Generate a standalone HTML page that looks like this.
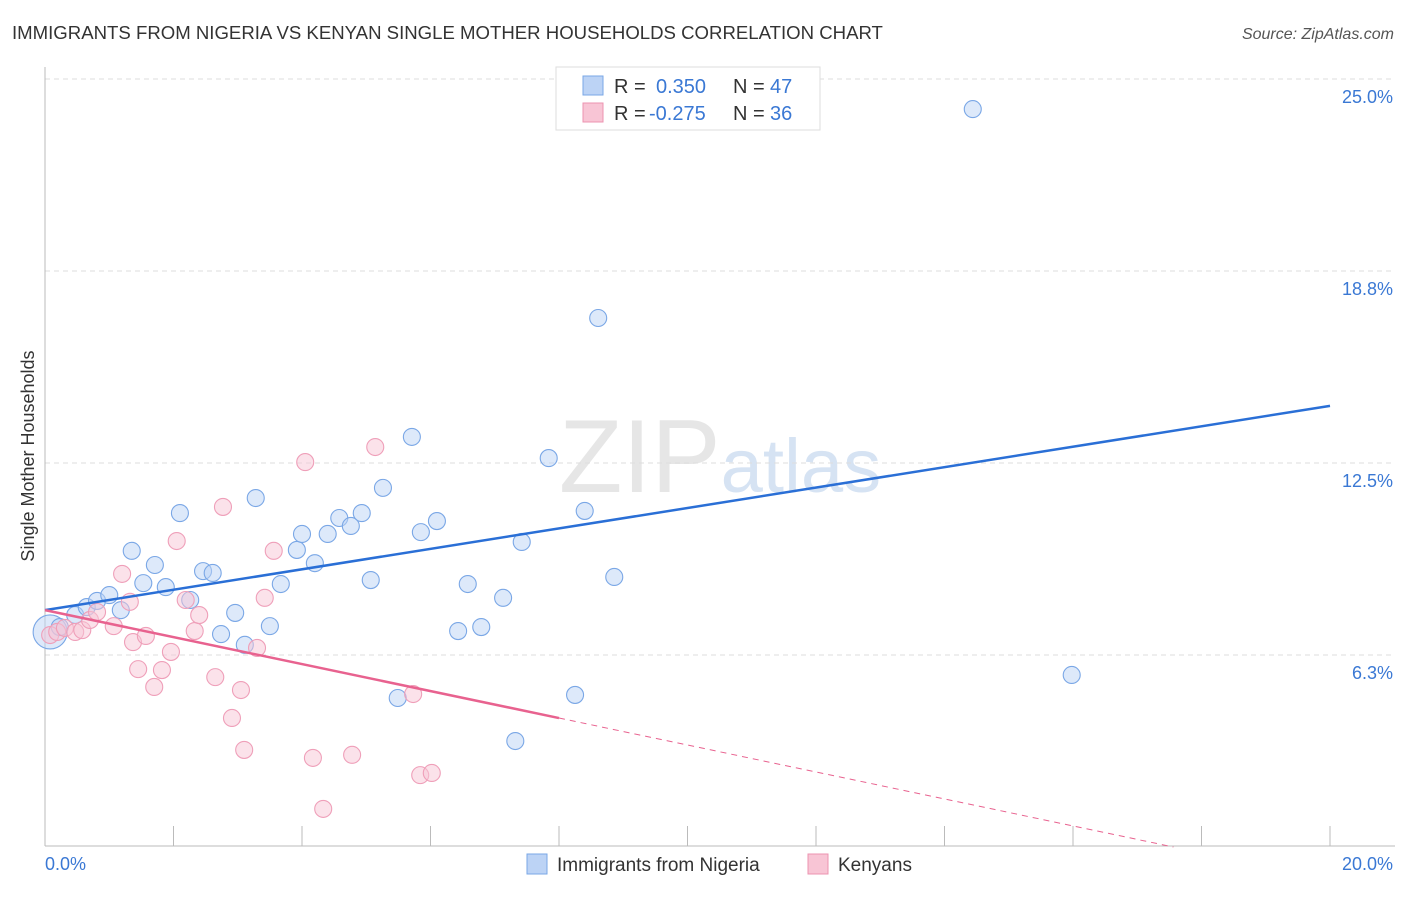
<!DOCTYPE html>
<html><head><meta charset="utf-8"><style>
body{margin:0;background:#fff;font-family:"Liberation Sans",sans-serif;}
svg text{font-family:"Liberation Sans",sans-serif;}
</style></head><body>
<svg id="chart" width="1406" height="892" xmlns="http://www.w3.org/2000/svg">
<text x="12" y="39" font-size="18.6" fill="#333">IMMIGRANTS FROM NIGERIA VS KENYAN SINGLE MOTHER HOUSEHOLDS CORRELATION CHART</text>
<text x="1394" y="39" font-size="16" fill="#555" text-anchor="end" font-style="italic">Source: ZipAtlas.com</text>
<text x="720" y="492" font-size="104" fill="#e6e6e6" text-anchor="middle" font-family="Liberation Serif"><tspan>ZIP</tspan><tspan fill="#d6e3f3" font-family="Liberation Sans" font-size="76">atlas</tspan></text>
<g id="grid"></g>
<g id="axes"></g>
<text transform="translate(34,456) rotate(-90)" font-size="18" fill="#333" text-anchor="middle">Single Mother Households</text>
<g id="marks"></g>
<g>
<rect x="556" y="67" width="264" height="63" fill="#fff" stroke="#ddd"/>
<rect x="583" y="76" width="20" height="19" fill="#bcd3f5" stroke="#7aa7e6"/>
<rect x="583" y="103" width="20" height="19" fill="#f8c5d5" stroke="#ec93b0"/>
<text x="614" y="93" font-size="20" fill="#333">R =</text><text x="656" y="93" font-size="20" fill="#3a78d4">0.350</text>
<text x="733" y="93" font-size="20" fill="#333">N =</text><text x="770" y="93" font-size="20" fill="#3a78d4">47</text>
<text x="614" y="120" font-size="20" fill="#333">R =</text><text x="649" y="120" font-size="20" fill="#3a78d4">-0.275</text>
<text x="733" y="120" font-size="20" fill="#333">N =</text><text x="770" y="120" font-size="20" fill="#3a78d4">36</text>
</g>
<g>
<rect x="527" y="854" width="20" height="20" fill="#bcd3f5" stroke="#7aa7e6"/>
<text x="557" y="871" font-size="19" fill="#333">Immigrants from Nigeria</text></g>
<g>
<rect x="808" y="854" width="20" height="20" fill="#f8c5d5" stroke="#ec93b0"/>
<text x="838" y="871" font-size="19" fill="#333">Kenyans</text></g>
</svg>
<script>
const yTicks=[6.25,12.5,18.75,25];
const yTickLabels=["6.3%","12.5%","18.8%","25.0%"];
const blueX=[0.08,0.23,0.47,0.65,0.81,1.00,1.18,1.35,1.53,1.71,1.88,2.10,2.26,2.46,2.61,2.74,2.96,3.11,3.28,3.50,3.67,3.92,4.00,4.20,4.40,4.58,4.76,4.93,5.07,5.26,5.49,5.71,5.85,6.10,6.43,6.58,6.79,7.13,7.32,7.42,7.84,8.25,8.40,8.61,8.86,14.44,15.98];
const blueY=[7.0,7.16,7.55,7.81,8.01,8.20,7.71,9.64,8.59,9.18,8.46,10.87,8.04,8.98,8.92,6.93,7.62,6.58,11.36,7.19,8.56,9.67,10.19,9.24,10.19,10.71,10.45,10.87,8.69,11.69,4.85,13.35,10.25,10.61,7.03,8.56,7.16,8.11,3.45,9.93,12.66,4.95,10.94,17.22,8.79,24.02,5.60];
const pinkX=[0.08,0.19,0.31,0.47,0.58,0.70,0.81,1.07,1.20,1.32,1.37,1.45,1.57,1.70,1.82,1.96,2.05,2.19,2.33,2.40,2.65,2.77,2.91,3.05,3.10,3.30,3.42,3.56,4.05,4.17,4.33,4.78,5.14,5.73,5.84,6.02];
const pinkY=[6.90,7.00,7.13,7.00,7.06,7.39,7.65,7.19,8.89,7.98,6.67,5.79,6.87,5.21,5.76,6.35,9.96,8.04,7.03,7.55,5.53,11.07,4.20,5.11,3.16,6.48,8.11,9.64,12.53,2.90,1.24,3.00,13.02,4.98,2.34,2.41];
const blueTrend=[7.71,0.3325];
const pinkTrend=[7.71,-0.439];
const NS="http://www.w3.org/2000/svg";
const sx=v=>45+v*64.25, sy=v=>847-v*30.72;
function mk(p,t,a){const e=document.createElementNS(NS,t);for(const k in a)e.setAttribute(k,a[k]);p.appendChild(e);return e;}
const grid=document.getElementById('grid'),axes=document.getElementById('axes'),marks=document.getElementById('marks');
yTicks.forEach((t,i)=>{
 const l=mk(grid,'line',{x1:45,x2:1395,y1:sy(t),y2:sy(t),stroke:'#ddd','stroke-dasharray':'5,4'});
 
 
 const tx=mk(axes,'text',{x:1393,y:sy(t)+24,'font-size':18,fill:'#3a78d4','text-anchor':'end'});
 tx.textContent=yTickLabels[i];
 
 
});
let a=mk(axes,'line',{x1:45,x2:45,y1:67,y2:846,stroke:'#bbb'});


a=mk(axes,'line',{x1:45,x2:1395,y1:846,y2:846,stroke:'#bbb'});


for(let i=0;i<=10;i++){const t=mk(axes,'line',{x1:sx(i*2),x2:sx(i*2),y1:826,y2:846,stroke:'#bbb'});
 
 }
let xl=mk(axes,'text',{x:45,y:870,'font-size':18,fill:'#3a78d4'});xl.textContent='0.0%';


xl=mk(axes,'text',{x:1393,y:870,'font-size':18,fill:'#3a78d4','text-anchor':'end'});xl.textContent='20.0%';


function pts(X,Y,fill,stroke,name){X.forEach((x,i)=>{
 const c=mk(marks,'circle',{cx:sx(x),cy:sy(Y[i]),r:(i===0&&name==='nigeria-point')?17:8.5,fill:fill,'fill-opacity':0.5,stroke:stroke,'stroke-width':1.1});
 
 });}
pts(blueX,blueY,'#bcd3f5','#7aa7e6','nigeria-point');
pts(pinkX,pinkY,'#f8c5d5','#ef9fb9','kenyan-point');
let t=mk(marks,'line',{x1:sx(0),y1:sy(blueTrend[0]),x2:sx(20),y2:sy(blueTrend[0]+20*blueTrend[1]),stroke:'#2a6fd6','stroke-width':2.5});


t=mk(marks,'line',{x1:sx(0),y1:sy(pinkTrend[0]),x2:sx(8),y2:sy(pinkTrend[0]+8*pinkTrend[1]),stroke:'#e8628f','stroke-width':2.5});


const xEnd=-pinkTrend[0]/pinkTrend[1];
t=mk(marks,'line',{x1:sx(8),y1:sy(pinkTrend[0]+8*pinkTrend[1]),x2:sx(xEnd),y2:sy(0),stroke:'#e8628f','stroke-width':1,'stroke-dasharray':'6,5'});


</script>
</body></html>
